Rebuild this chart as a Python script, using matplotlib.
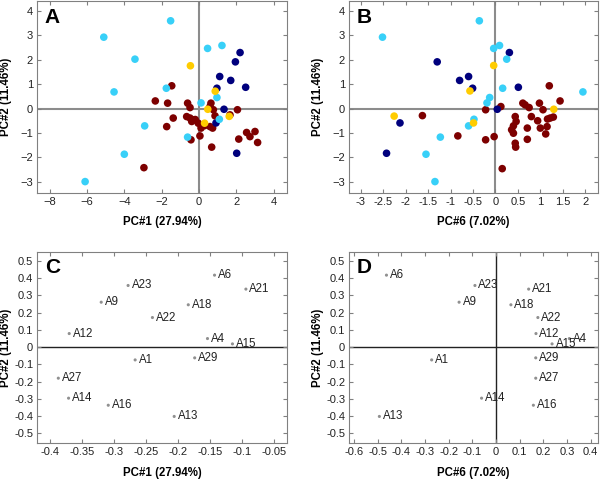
import matplotlib
matplotlib.use("Agg")
from matplotlib import pyplot as plt

plt.rcParams['font.family'] = ['Liberation Sans', 'DejaVu Sans']

# Scores, panel A (PC1 vs PC2) and panel B (PC6 vs PC2), by group.
a_red = [(-1.46, 0.93), (-2.34, 0.31), (-1.68, 0.22), (-1.38, -0.39), (-1.73, -0.74),
         (-2.95, -2.42), (-0.61, 0.22), (-0.48, 0.04), (-0.66, -0.33), (-0.48, -0.39),
         (-0.3, -0.46), (-0.39, -0.53), (-0.04, -0.6), (0.11, -0.8), (0.05, -1.12),
         (-0.43, -1.28), (0.64, 0.22), (0.59, 0.08), (0.77, -0.05), (0.86, -0.3),
         (0.59, -0.74), (0.73, -0.8), (0.68, -1.58), (2.06, -0.05), (1.66, -0.26),
         (2.13, -1.25), (2.55, -0.98), (2.73, -1.15), (3.0, -0.94), (3.14, -1.39),
         (-0.2, -0.45), (0.3, -0.7)]
a_navy = [(2.2, 2.29), (1.95, 1.91), (1.11, 1.31), (1.7, 1.15), (2.5, 0.87),
          (0.96, 0.83), (1.34, -0.03), (0.91, -0.59), (2.02, -1.83)]
a_cyan = [(-1.52, 3.59), (-5.1, 2.92), (-3.43, 2.02), (-4.55, 0.68), (-2.91, -0.71),
          (-4.0, -1.87), (-6.1, -2.99), (0.46, 2.46), (1.23, 2.58), (-1.75, 0.83),
          (0.11, 0.23), (0.96, 0.45), (-0.61, -1.17), (1.09, -0.44)]
a_yellow = [(-0.46, 1.75), (0.87, 0.71), (0.47, -0.03), (1.62, -0.32), (0.3, -0.6)]

b_red = [(-1.63, -0.29), (-0.84, -1.12), (-0.22, -0.05), (-0.22, -1.28), (-0.03, -1.15),
         (0.12, 0.08), (0.15, -2.46), (0.44, -0.33), (0.46, -0.53), (0.4, -0.71),
         (0.36, -0.87), (0.4, -1.01), (0.44, -1.42), (0.45, -1.58), (0.61, 0.22),
         (0.66, 0.15), (0.75, 0.04), (0.8, -0.33), (0.71, -0.8), (0.71, -1.26),
         (0.94, -0.5), (0.98, 0.22), (1.06, -0.05), (1.0, -0.8), (1.12, -1.04),
         (1.15, -0.74), (1.16, -0.43), (1.22, -0.39), (1.29, -0.35), (1.2, 0.93),
         (1.44, 0.31)]
b_navy = [(0.31, 2.29), (-1.3, 1.91), (-0.6, 1.31), (-0.8, 1.15), (-0.51, 0.83),
          (0.51, 0.87), (0.04, -0.03), (-2.13, -0.59), (-2.43, -1.83)]
b_cyan = [(-0.36, 3.59), (-2.52, 2.92), (-0.04, 2.46), (0.09, 2.58), (0.25, 2.02),
          (0.16, 0.83), (-0.13, 0.45), (-0.19, 0.23), (-0.48, -0.44), (-0.6, -0.71),
          (-1.23, -1.17), (-1.55, -1.87), (-1.35, -2.99), (1.95, 0.68)]
b_yellow = [(-0.04, 1.76), (-0.57, 0.72), (1.3, -0.03), (-2.26, -0.31), (-0.49, -0.59)]

# Loadings, panels C and D.
names = ['A6', 'A21', 'A23', 'A9', 'A18', 'A22', 'A12', 'A4', 'A15', 'A1',
         'A29', 'A27', 'A14', 'A16', 'A13']
pc2 = [0.418, 0.337, 0.358, 0.261, 0.246, 0.172, 0.079, 0.050, 0.019, -0.074,
       -0.062, -0.180, -0.296, -0.337, -0.402]
pc1 = [-0.143, -0.094, -0.278, -0.320, -0.184, -0.240, -0.370, -0.154, -0.115, -0.267,
       -0.174, -0.387, -0.371, -0.309, -0.206]
pc6 = [-0.463, 0.138, -0.089, -0.156, 0.063, 0.177, 0.169, 0.310, 0.237, -0.272,
       0.168, 0.168, -0.061, 0.158, -0.493]

colors = {'red': '#7d0000', 'navy': '#00007d', 'cyan': '#38d0f8', 'yellow': '#ffcc00'}
frame = '#808080'

fig = plt.figure(figsize=(6, 4.79), dpi=100)
axA = fig.add_axes([0.0622, 0.5964, 0.4157, 0.4015])
axB = fig.add_axes([0.5822, 0.5964, 0.414, 0.4015])
axC = fig.add_axes([0.0622, 0.0745, 0.4157, 0.400])
axD = fig.add_axes([0.5822, 0.0745, 0.414, 0.400])


def style(ax, letter, xlabel, xly):
    for s in ax.spines.values():
        s.set_color(frame)
    ax.tick_params(direction='in', length=3, color=frame, labelsize=8,
                   top=True, right=True, pad=3, labelcolor='#222222')
    ax.text(0.03, 0.965, letter, transform=ax.transAxes, fontsize=15,
            fontweight='bold', va='top', ha='left')
    ax.set_ylabel('PC#2 (11.46%)', fontsize=8.3, fontweight='bold')
    ax.yaxis.set_label_coords(-0.10, 0.5)
    ax.set_xlabel(xlabel, fontsize=8.3, fontweight='bold')
    ax.xaxis.set_label_coords(0.5, xly)


def scores(ax, groups):
    ax.axhline(0, color='#8c8c8c', lw=1.5, zorder=1)
    ax.axvline(0, color='#8c8c8c', lw=1.5, zorder=1)
    for pts, c in groups:
        xs = [p[0] for p in pts]
        ys = [p[1] for p in pts]
        ax.scatter(xs, ys, s=30, color=colors[c], edgecolors='none', zorder=2)
    ax.set_ylim(-3.47, 4.4)
    ax.set_yticks(range(-3, 5))


scores(axA, [(a_red, 'red'), (a_navy, 'navy'), (a_cyan, 'cyan'), (a_yellow, 'yellow')])
axA.set_xlim(-8.66, 4.7)
axA.set_xticks(range(-8, 5, 2))
style(axA, 'A', 'PC#1 (27.94%)', -0.118)

scores(axB, [(b_red, 'red'), (b_navy, 'navy'), (b_cyan, 'cyan'), (b_yellow, 'yellow')])
axB.set_xlim(-3.26, 2.28)
xb = [-3, -2.5, -2, -1.5, -1, -0.5, 0, 0.5, 1, 1.5, 2]
axB.set_xticks(xb)
axB.set_xticklabels([f'{v:g}' for v in xb])
style(axB, 'B', 'PC#6 (7.02%)', -0.118)


def loadings(ax, xs):
    ax.axhline(0, color='#222222', lw=1, zorder=1)
    ax.axvline(0, color='#222222', lw=1, zorder=1)
    ax.scatter(xs, pc2, s=5, color='#909090', edgecolors='none', zorder=2)
    for x, y, n in zip(xs, pc2, names):
        ax.annotate(n, (x, y), xytext=(2.5, 0), textcoords='offset points',
                    fontsize=8.3, va='center', ha='left', color='#222222')
    ax.set_ylim(-0.558, 0.554)
    yt = [-0.5, -0.4, -0.3, -0.2, -0.1, 0, 0.1, 0.2, 0.3, 0.4, 0.5]
    ax.set_yticks(yt)
    ax.set_yticklabels(['0' if v == 0 else f'{v:g}' for v in yt])


loadings(axC, pc1)
axC.set_xlim(-0.4198, -0.0302)
xc = [-0.4, -0.35, -0.3, -0.25, -0.2, -0.15, -0.1, -0.05]
axC.set_xticks(xc)
axC.set_xticklabels([f'{v:g}' for v in xc])
style(axC, 'C', 'PC#1 (27.94%)', -0.125)

loadings(axD, pc6)
axD.set_xlim(-0.62, 0.43)
xd = [-0.6, -0.5, -0.4, -0.3, -0.2, -0.1, 0, 0.1, 0.2, 0.3, 0.4]
axD.set_xticks(xd)
axD.set_xticklabels(['0' if v == 0 else f'{v:g}' for v in xd])
style(axD, 'D', 'PC#6 (7.02%)', -0.125)

fig.savefig('out.png', dpi=100)
